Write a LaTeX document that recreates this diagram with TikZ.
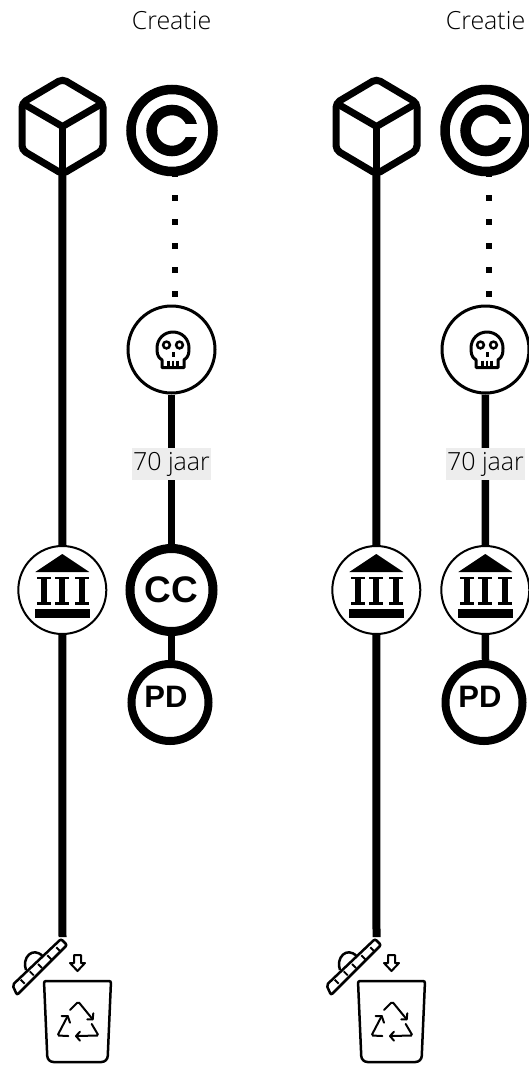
\documentclass[tikz,border=0pt]{standalone}
\usepackage{fontspec}
\newfontfamily\labelfont[UprightFont={* Light}]{Open Sans}
\newfontfamily\markfont[BoldFont={Liberation Sans Bold}]{Liberation Sans}

\tikzset{
    cubeicon/.pic={
        \draw[line width=7pt, rounded corners=4.5pt] (0,-47.5) -- (40.5,-23.5) -- (40.5,23.5) -- (0,47.5) -- (-40.5,23.5) -- (-40.5,-23.5) -- cycle;
        \draw[line width=7pt, line join=round] (-40.5,-23.5) -- (0,0) -- (40.5,-23.5);
        \draw[line width=7pt] (0,0) -- (0,46);
    },
    copyicon/.pic={
        \draw[line width=10.5pt] (0,0) circle[radius=20.5];
        \fill[white] (1,-6.3) rectangle (28,6.3);
    },
    skullicon/.pic={
        \draw[line width=3pt, line join=round] (-11,18.5) -- (-11,11) .. controls (-16,8) and (-16,3) .. (-16,-1) .. controls (-16,-10) and (-9,-17) .. (0,-17) .. controls (9,-17) and (16,-10) .. (16,-1) .. controls (16,3) and (16,8) .. (11,11) -- (11,18.5) -- cycle;
        \draw[line width=2.5pt] (-6.5,-4) circle[radius=3.4] (6.5,-4) circle[radius=3.4];
        \draw[line width=3pt] (0,3) -- (0,7.5);
        \draw[line width=2.2pt] (-4.5,11.5) -- (-4.5,19) (0,11.5) -- (0,19) (4.5,11.5) -- (4.5,19);
    },
    museumicon/.pic={
        \fill (0,-36) -- (27,-18) -- (-27,-18) -- cycle;
        \foreach \colx in {-18,0,19.5} {
            \fill (\colx-7,-13.5) rectangle (\colx+7,-10.7);
            \fill (\colx-3,-12) rectangle (\colx+3,13);
            \fill (\colx-7,11.5) rectangle (\colx+7,14.5);
        }
        \fill (-27.5,19) rectangle (27.5,27.5);
    },
    binicon/.pic={
        % lid, handle and ticks
        \draw[line width=2.5pt, rounded corners=2pt] (-50,-15) -- (-1.5,-61) -- (4.5,-55) -- (-45.5,-5) -- cycle;
        \draw[line width=2.5pt] (-36.5,-30) .. controls (-41,-42) and (-30,-54) .. (-20,-44);
        \foreach \tickx/\ticky in {-4.2/-50.7,-13.2/-42.7,-22.5/-34,-30.8/-26.7,-39.8/-18.3} {
            \draw[line width=1.8pt] (\tickx-2,\ticky-2) -- (\tickx+2,\ticky+2);
        }
        % arrow
        \draw[line width=2pt, line join=round] (11.5,-45) -- (18.5,-45) -- (18.5,-37) -- (22.5,-37) -- (15,-29) -- (7.5,-37) -- (11.5,-37) -- cycle;
        % bin
        \draw[line width=2.5pt, rounded corners=2pt] (15,-19) -- (48.5,-19) [rounded corners=6pt] -- (45,62) -- (-15,62) [rounded corners=2pt] -- (-18.5,-19) -- cycle;
        % recycling arrows
        \draw[line width=2pt, rounded corners=1.5pt, line cap=round] (7.5,10) -- (15.8,1.7) -- (30.2,19.3);
        \draw[line width=2pt, line cap=round, line join=round] (24.8,19.3) -- (30.2,19.3) -- (30.8,13.3);
        \draw[line width=2pt, rounded corners=1.5pt, line cap=round] (29.2,24) -- (36,35.5) -- (13.5,36);
        \draw[line width=2pt, line cap=round, line join=round] (17.5,31.7) -- (13.5,36) -- (17.5,40.7);
        \draw[line width=2pt, rounded corners=1.5pt, line cap=round] (5.8,36) -- (-5,35.5) -- (5.2,16);
        \draw[line width=2pt, line cap=round, line join=round] (-0.8,16) -- (5.2,16) -- (7.5,22.7);
    },
}

\begin{document}
\begin{tikzpicture}[
        x=1pt, y=-1pt,
        every node/.style={inner sep=0pt},
        stepcircle/.style={circle, draw, fill=white, minimum size=#1},
        timeline/.style={line width=8pt},
        waitline/.style={line width=6pt, dash pattern=on 6pt off 18pt, dash phase=5pt},
        headtext/.style={font=\labelfont\fontsize{25}{29}\selectfont, text=black},
        yeartext/.style={font=\labelfont\fontsize{25}{29}\selectfont, text=black, fill=black!7, minimum width=79pt, minimum height=32pt},
        marktext/.style={font=\markfont\bfseries\fontsize{#1}{#1}\selectfont},
    ]
    \useasboundingbox (0,0) rectangle (529,1065);

    % left column
    \node[headtext] (headA) at (171.5,21) {Creatie};
    \node[circle, minimum size=95pt] (cubeA) at (62.5,126.5) {};
    \node[stepcircle=82pt, line width=9.5pt] (copyA) at (172,130.5) {};
    \node[stepcircle=87pt, line width=3pt] (skullA) at (171.5,349.5) {};
    \node[stepcircle=88pt, line width=2pt] (museumA) at (62.3,590) {};
    \node[stepcircle=83pt, line width=9pt] (ccA) at (171.5,590) {};
    \node[stepcircle=77pt, line width=8pt] (pdA) at (170,702.5) {};
    \coordinate (binA) at (62.5,937);

    \pic at (cubeA) {cubeicon};
    \pic at (copyA) {copyicon};
    \pic at (173,349) {skullicon};
    \pic at (museumA) {museumicon};
    \pic at (62.5,1000) {binicon};
    \node[marktext=37] (cctextA) at (ccA) {CC};
    \node[marktext=31] (pdtextA) at (166,696.5) {PD};

    \draw[timeline] (cubeA) -- (museumA);
    \draw[timeline] ([yshift=1.5pt]museumA.south) -- (binA);
    \draw[waitline] ([xshift=2.7pt]copyA.south) -- ([xshift=3.2pt]skullA.north);
    \draw[timeline, line width=7.5pt] (skullA) -- (ccA);
    \draw[timeline, line width=7.5pt] (ccA) -- ([xshift=1.5pt]pdA.north);
    \node[yeartext] (yearA) at (171.5,464) {70 jaar};

    % right column
    \node[headtext] (headB) at (485.5,21) {Creatie};
    \node[circle, minimum size=95pt] (cubeB) at (376.5,126.5) {};
    \node[stepcircle=82pt, line width=9.5pt] (copyB) at (486,130.5) {};
    \node[stepcircle=87pt, line width=3pt] (skullB) at (485.5,349.5) {};
    \node[stepcircle=88pt, line width=2pt] (museumB) at (376.3,590) {};
    \node[stepcircle=88pt, line width=2pt] (museumC) at (485.3,590) {};
    \node[stepcircle=77pt, line width=8pt] (pdB) at (484,702.5) {};
    \coordinate (binB) at (376.5,937);

    \pic at (cubeB) {cubeicon};
    \pic at (copyB) {copyicon};
    \pic at (487,349) {skullicon};
    \pic at (museumB) {museumicon};
    \pic at (museumC) {museumicon};
    \pic at (376.5,1000) {binicon};
    \node[marktext=31] (pdtextB) at (480,696.5) {PD};

    \draw[timeline] (cubeB) -- (museumB);
    \draw[timeline] ([yshift=1.5pt]museumB.south) -- (binB);
    \draw[waitline] ([xshift=2.7pt]copyB.south) -- ([xshift=3.2pt]skullB.north);
    \draw[timeline, line width=7.5pt] (skullB) -- (museumC);
    \draw[timeline, line width=7.5pt] ([yshift=1.5pt]museumC.south) -- ([xshift=1.5pt]pdB.north);
    \node[yeartext] (yearB) at (485.5,464) {70 jaar};
\end{tikzpicture}
\end{document}
